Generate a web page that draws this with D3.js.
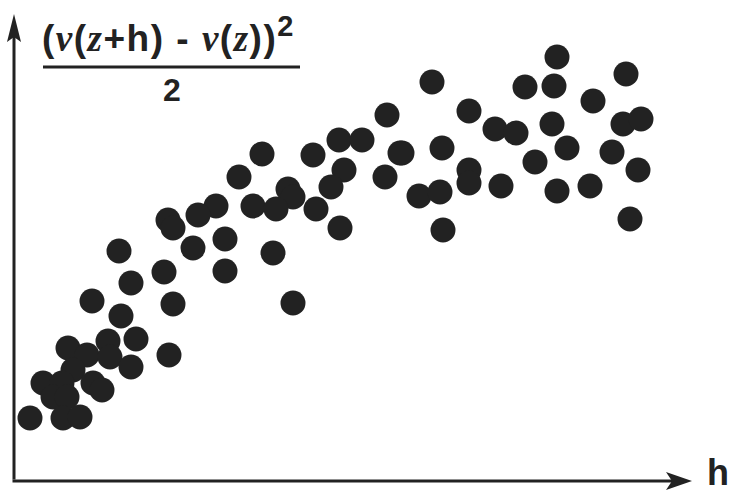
<!DOCTYPE html>
<html>
<head>
<meta charset="utf-8">
<script src="https://cdn.jsdelivr.net/npm/d3@7"></script>
<style>
  body { margin: 0; background: #fff; }
  svg { display: block; }
  .lbl { font-family: "Liberation Sans", Arial, sans-serif; font-weight: bold; fill: #222; }
  .it { font-family: "Liberation Serif", "Times New Roman", serif; font-style: italic; font-weight: bold; }
</style>
</head>
<body>
<svg id="myGraph" width="731" height="495"></svg>
<script>
var svgWidth = 731;
var svgHeight = 495;

// lag distance h (arbitrary units)
var lagH = [
  543, 418, 612, 511, 540, 579, 455, 481, 502, 538, 609, 627, 388, 428, 553, 598,
  521, 624, 455, 455, 405, 426, 487, 543, 576, 429, 616,
  373, 248, 299, 325, 348, 386, 225, 330, 317, 371, 274, 279, 239, 262, 302, 202,
  184, 154, 159, 326, 179, 211, 259, 150, 211, 159, 279,
  105, 117, 78, 107, 122, 94, 54, 73, 96, 155, 117, 59, 29, 48, 79, 88, 39, 53,
  16, 49, 66
];
// semivariance (v(z+h) - v(z))^2 / 2, same order
var semiVar = [
  421, 396, 404, 391, 392, 377, 367, 349, 345, 354, 354, 359, 325, 330, 330, 326,
  316, 308, 308, 295, 282, 286, 292, 287, 292, 248, 259,
  363, 324, 323, 338, 338, 325, 301, 308, 291, 301, 289, 281, 272, 269, 269, 272,
  263, 258, 250, 250, 230, 239, 225, 206, 207, 174, 175,
  227, 195, 177, 162, 139, 137, 130, 123, 121, 123, 111, 108, 95, 95, 95, 88, 81, 81,
  60, 60, 61
];

var x = d3.scaleLinear().domain([0, 700]).range([14, 714]);
var y = d3.scaleLinear().domain([0, 460]).range([478, 18]);

var svg = d3.select('#myGraph');

var points = lagH.map(function(h, i) {
  return { h: h, g: semiVar[i] };
});

svg.selectAll('circle.dot')
  .data(points)
  .enter()
  .append('circle')
  .attr('class', 'dot')
  .attr('cx', function(d) { return x(d.h); })
  .attr('cy', function(d) { return y(d.g); })
  .attr('r', 12.5)
  .attr('fill', '#222');

// axes drawn as plain arrows, no ticks
var ink = '#222';
svg.append('line')
  .attr('x1', x(0)).attr('y1', y(0) + 1.5)
  .attr('x2', x(0)).attr('y2', 36)
  .attr('stroke', ink).attr('stroke-width', 3);
svg.append('path')
  .attr('d', 'M' + x(0) + ',14 L' + (x(0) - 7) + ',42 L' + x(0) + ',37 L' + (x(0) + 7) + ',42 Z')
  .attr('fill', ink);

svg.append('line')
  .attr('x1', x(0) - 1.5).attr('y1', y(0) + 3)
  .attr('x2', 674).attr('y2', y(0) + 3)
  .attr('stroke', ink).attr('stroke-width', 3);
svg.append('path')
  .attr('d', 'M692,' + (y(0) + 3) + ' L666,' + (y(0) - 6) + ' L672,' + (y(0) + 3) + ' L666,' + (y(0) + 12) + ' Z')
  .attr('fill', ink);

svg.append('text')
  .attr('class', 'lbl')
  .attr('x', 707).attr('y', 485)
  .style('font-size', '36px')
  .text('h');

// y label as a fraction
var num = svg.append('text')
  .attr('class', 'lbl')
  .attr('x', 42).attr('y', 51)
  .style('font-size', '37px')
  .style('letter-spacing', '1.5px');
num.append('tspan').text('(');
num.append('tspan').attr('class', 'it').text('ν');
num.append('tspan').text('(');
num.append('tspan').attr('class', 'it').text('z');
num.append('tspan').text('+h) - ');
num.append('tspan').attr('class', 'it').text('ν');
num.append('tspan').text('(');
num.append('tspan').attr('class', 'it').text('z');
num.append('tspan').text('))');
num.append('tspan').attr('dy', -15).style('font-size', '29px').text('2');

svg.append('line')
  .attr('x1', 43).attr('y1', 67)
  .attr('x2', 300).attr('y2', 67)
  .attr('stroke', ink).attr('stroke-width', 3);

svg.append('text')
  .attr('class', 'lbl')
  .attr('x', 172).attr('y', 101)
  .attr('text-anchor', 'middle')
  .style('font-size', '32px')
  .text('2');
</script>
</body>
</html>
